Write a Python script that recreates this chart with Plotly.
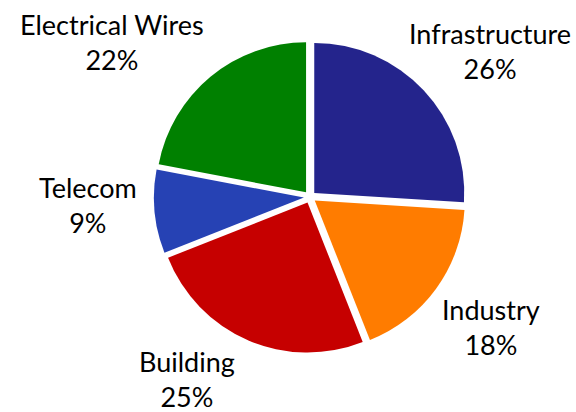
import plotly.graph_objects as go

# Market share by application segment
segments = ["Infrastructure", "Industry", "Building", "Telecom", "Electrical Wires"]
shares = [26, 18, 25, 9, 22]
colors = ["#24248c", "#ff7c00", "#c60000", "#2642b4", "#008000"]

W, H = 576, 412

fig = go.Figure(
    go.Pie(
        labels=segments,
        values=shares,
        sort=False,
        direction="clockwise",
        rotation=0,
        pull=[0.04] * len(segments),
        marker=dict(colors=colors, line=dict(width=0)),
        textinfo="none",
        hoverinfo="label+percent",
        showlegend=False,
        domain=dict(x=[0.1, 0.976], y=[0.1432, 0.9005]),
    )
)

# Category labels placed around the pie (pixel centres of each label block)
label_pos = [(490, 51), (491, 327), (187, 379), (88, 205), (112, 42)]
total = sum(shares)
for name, value, (px, py) in zip(segments, shares, label_pos):
    fig.add_annotation(
        x=px / W,
        y=1 - py / H,
        xref="paper",
        yref="paper",
        xanchor="center",
        yanchor="middle",
        align="center",
        showarrow=False,
        text=f"{name}<br>{round(value / total * 100)}%",
        font=dict(family="Lato, sans-serif", size=27, color="#000000"),
    )

fig.update_layout(
    width=W,
    height=H,
    margin=dict(l=0, r=0, t=0, b=0),
    paper_bgcolor="white",
    plot_bgcolor="white",
)

fig.write_html("out.html")
